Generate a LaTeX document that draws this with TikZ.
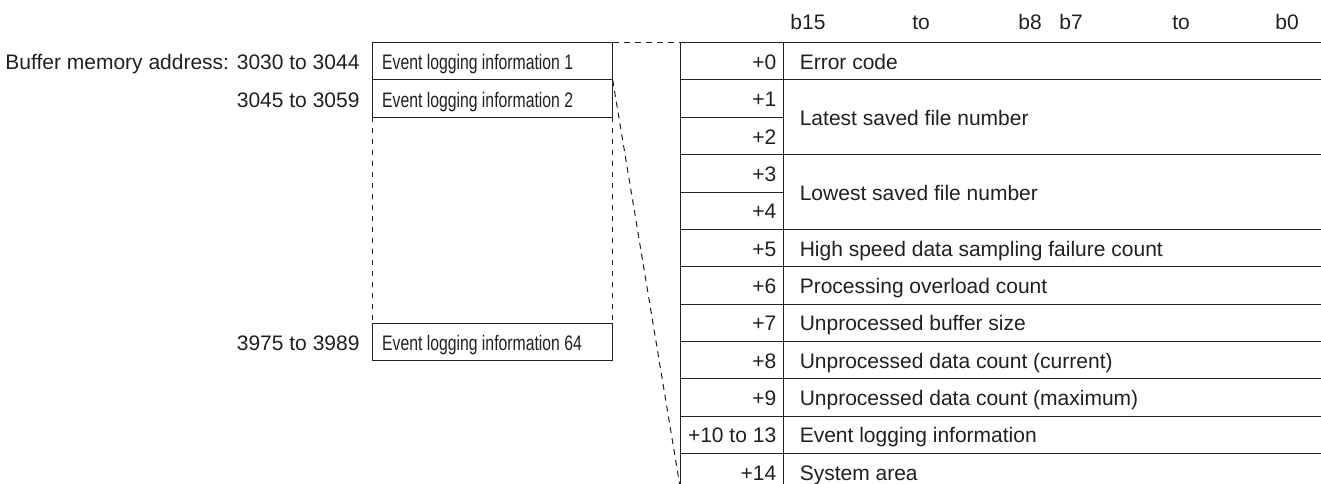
\documentclass[tikz,border=0pt]{standalone}
\usepackage{fontspec}
\setmainfont{Liberation Sans}
\newfontfamily\narrowfont[FakeStretch=0.75]{Liberation Sans}
\definecolor{ink}{HTML}{231F20}
\begin{document}
\begin{tikzpicture}[x=1pt,y=-1pt,line width=1pt,
  lbl/.style={font=\fontsize{21}{25}\selectfont, inner sep=0pt, text=ink},
  numlbl/.style={lbl, anchor=base east},
  txtlbl/.style={lbl, anchor=base west},
  hdr/.style={lbl, anchor=base},
  narrowlbl/.style={font=\narrowfont\fontsize{21}{25}\selectfont, inner sep=0pt, text=ink, anchor=base west},
  memcell/.style={draw=ink, minimum width=240.4pt, minimum height=37.3pt, inner sep=0pt, outer sep=0pt, anchor=north west},
  rule/.style={draw=ink, line width=1pt},
  dashlink/.style={draw=ink, line width=1pt, dash pattern=on 6pt off 5pt},
  dashside/.style={draw=ink, line width=1pt, dash pattern=on 5pt off 6pt}]
\useasboundingbox (0,0) rectangle (1321,484);

% header
\node[hdr] (h1) at (808,30) {b15};
\node[hdr] (h2) at (921,30) {to};
\node[hdr] (h3) at (1030,30) {b8};
\node[hdr] (h4) at (1071,30) {b7};
\node[hdr] (h5) at (1181,30) {to};
\node[hdr] (h6) at (1287,30) {b0};

% left memory boxes
\node[memcell] (b1) at (372.3,42.7) {};
\node[memcell] (b2) at (372.3,80) {};
\node[memcell, minimum height=37pt] (b64) at (372.3,323.3) {};
\node[narrowlbl] (t1) at (381.7,70) {Event logging information 1};
\node[narrowlbl] (t2) at (381.7,107.5) {Event logging information 2};
\node[narrowlbl] (t64) at (381.7,350) {Event logging information 64};
\node[numlbl] (a1) at (360,69.5) {Buffer memory address: 3030 to 3044};
\node[numlbl] (a2) at (360,107) {3045 to 3059};
\node[numlbl] (a64) at (360,350) {3975 to 3989};
\draw[dashside] (b2.south west) -- (b64.north west);
\draw[dashside] (b2.south east) -- (b64.north east);

% table
\coordinate (tl) at (680.7,42.7);
\coordinate (bl) at (680.7,490.7);
\coordinate (dv) at (783.3,42.7);
\coordinate (dvb) at (783.3,490.7);
\draw[rule] (tl) -- (bl);
\draw[rule] (dv) -- (dvb);
\foreach \y in {42.7,80,154.7,229.3,266.7,304,341.3,378.7,416,453.3}
  \draw[rule] (680.7,\y) -- (1321,\y);
\foreach \y in {117.3,192}
  \draw[rule] (680.7,\y) -- (783.3,\y);

% offsets
\node[numlbl] (o0) at (776.7,69.3) {+0};
\node[numlbl] (o1) at (776.7,106.7) {+1};
\node[numlbl] (o2) at (776.7,144) {+2};
\node[numlbl] (o3) at (776.7,181.3) {+3};
\node[numlbl] (o4) at (776.7,218.7) {+4};
\node[numlbl] (o5) at (776.7,256) {+5};
\node[numlbl] (o6) at (776.7,293.3) {+6};
\node[numlbl] (o7) at (776.7,330.7) {+7};
\node[numlbl] (o8) at (776.7,368) {+8};
\node[numlbl] (o9) at (776.7,405.3) {+9};
\node[numlbl] (o10) at (776.7,442.7) {+10 to 13};
\node[numlbl] (o14) at (776.7,480) {+14};

% contents
\node[txtlbl] (c0) at (799.3,69.3) {Error code};
\node[txtlbl] (c1) at (799.3,125.3) {Latest saved file number};
\node[txtlbl] (c3) at (799.3,200) {Lowest saved file number};
\node[txtlbl] (c5) at (799.3,256) {High speed data sampling failure count};
\node[txtlbl] (c6) at (799.3,293.3) {Processing overload count};
\node[txtlbl] (c7) at (799.3,330.7) {Unprocessed buffer size};
\node[txtlbl] (c8) at (799.3,368) {Unprocessed data count (current)};
\node[txtlbl] (c9) at (799.3,405.3) {Unprocessed data count (maximum)};
\node[txtlbl] (c10) at (799.3,442.7) {Event logging information};
\node[txtlbl] (c14) at (799.3,480) {System area};

% links
\draw[dashlink] (b1.north east) -- (tl);
\draw[dashlink] (b1.south east) -- (bl);
\end{tikzpicture}
\end{document}
